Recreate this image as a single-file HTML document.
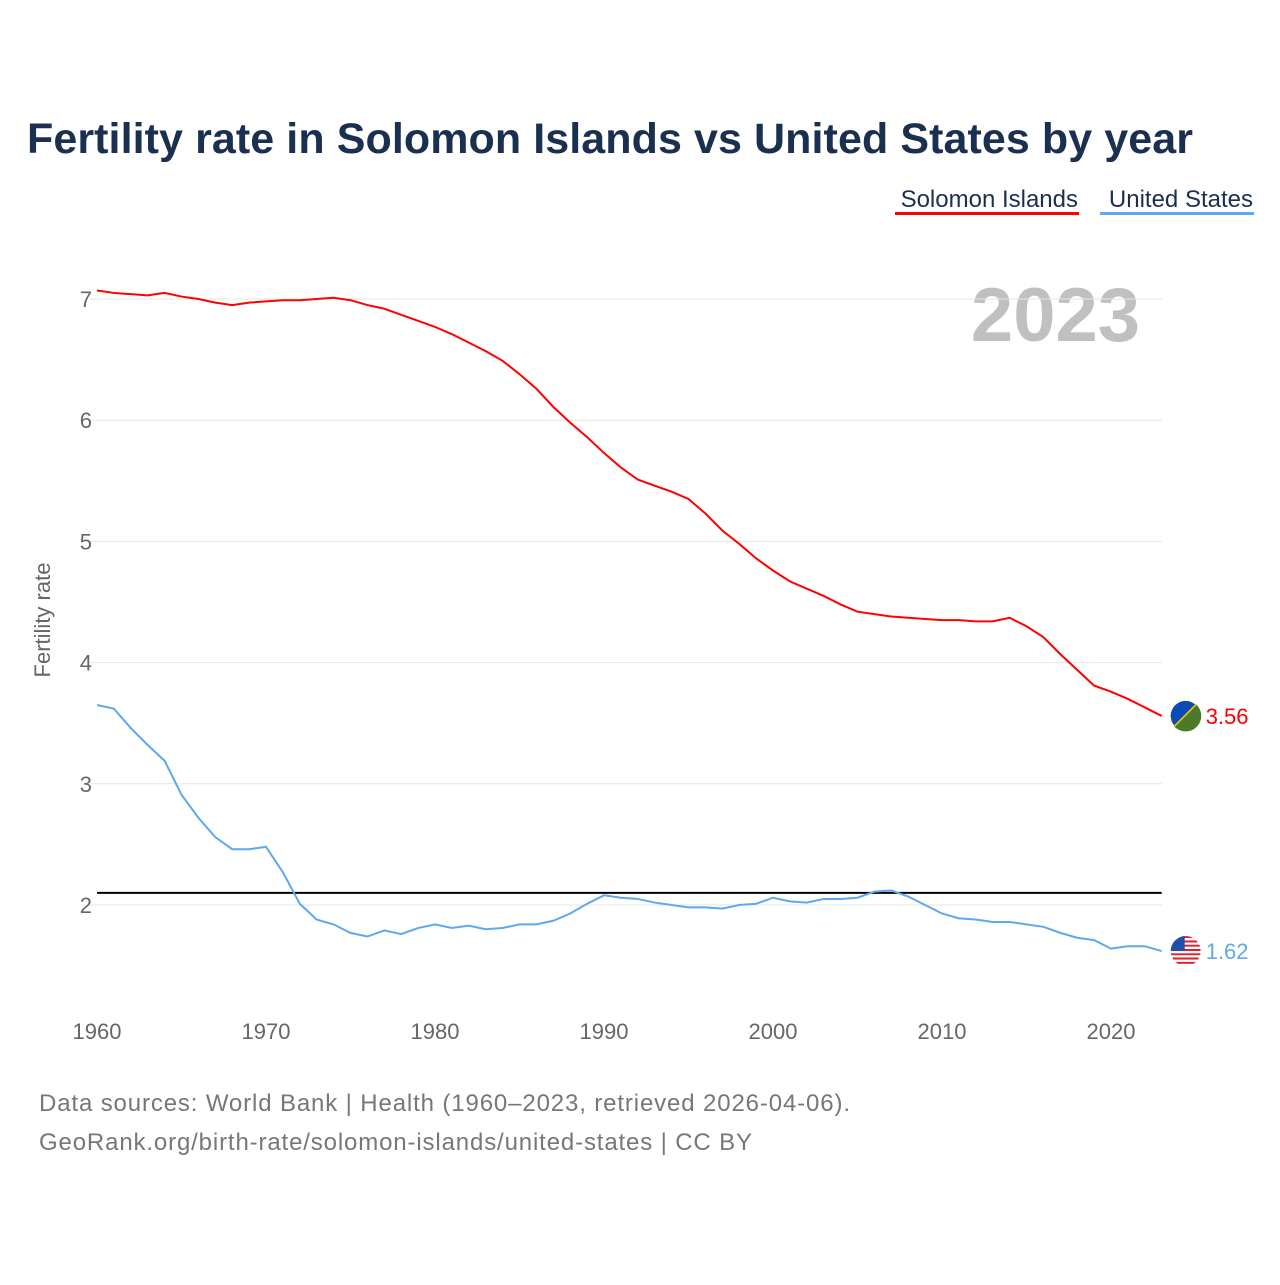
<!DOCTYPE html>
<html><head><meta charset="utf-8">
<style>
body{margin:0;background:#fff;width:1280px;height:1280px;overflow:hidden;font-family:"Liberation Sans",sans-serif}
</style></head>
<body>
<svg id="chart" width="1280" height="1280" xmlns="http://www.w3.org/2000/svg" font-family="Liberation Sans, sans-serif">
<text x="27" y="153" font-size="43" font-weight="bold" fill="#1b3050" textLength="1166">Fertility rate in Solomon Islands vs United States by year</text>
<g>
<text x="1078" y="207" font-size="24" fill="#1b3050" text-anchor="end">Solomon Islands</text>
<rect x="895" y="212" width="184" height="3" fill="#ff0000"/></g>
<g>
<text x="1253" y="207" font-size="24" fill="#1b3050" text-anchor="end">United States</text>
<rect x="1100" y="212" width="154" height="3" fill="#5ea8ee"/></g>
<text x="1140" y="341" font-size="76" font-weight="bold" fill="#c0c0c0" text-anchor="end">2023</text>
<text transform="translate(50,620) rotate(-90)" font-size="22" fill="#666" text-anchor="middle">Fertility rate</text>
<g id="grid"></g><g id="marks"></g>
<text x="39" y="1111" font-size="24" fill="#777" textLength="811">Data sources: World Bank | Health (1960–2023, retrieved 2026-04-06).</text>
<text x="39" y="1150" font-size="24" fill="#777" textLength="713">GeoRank.org/birth-rate/solomon-islands/united-states | CC BY</text>
</svg>
<script>
const years=[];for(let y=1960;y<=2023;y++)years.push(y);
const solomon=[7.07,7.05,7.04,7.03,7.05,7.02,7.00,6.97,6.95,6.97,6.98,6.99,6.99,7.00,7.01,6.99,6.95,6.92,6.87,6.82,6.77,6.71,6.64,6.57,6.49,6.38,6.26,6.11,5.98,5.86,5.73,5.61,5.51,5.46,5.41,5.35,5.23,5.09,4.98,4.86,4.76,4.67,4.61,4.55,4.48,4.42,4.40,4.38,4.37,4.36,4.35,4.35,4.34,4.34,4.37,4.30,4.21,4.07,3.94,3.81,3.76,3.70,3.63,3.56];
const us=[3.65,3.62,3.46,3.32,3.19,2.91,2.72,2.56,2.46,2.46,2.48,2.27,2.01,1.88,1.84,1.77,1.74,1.79,1.76,1.81,1.84,1.81,1.83,1.80,1.81,1.84,1.84,1.87,1.93,2.01,2.08,2.06,2.05,2.02,2.00,1.98,1.98,1.97,2.00,2.01,2.06,2.03,2.02,2.05,2.05,2.06,2.11,2.12,2.07,2.00,1.93,1.89,1.88,1.86,1.86,1.84,1.82,1.77,1.73,1.71,1.64,1.66,1.66,1.62];
const yTicks=[2,3,4,5,6,7];
const xTicks=[1960,1970,1980,1990,2000,2010,2020];
const replacement=2.1;
const NS="http://www.w3.org/2000/svg";
const x=v=>97+(v-1960)*(1014/60);
const y=v=>905-(v-2)*121.2;
const grid=document.getElementById('grid'),marks=document.getElementById('marks');
function mk(tag,attrs,parent){const e=document.createElementNS(NS,tag);for(const k in attrs)e.setAttribute(k,attrs[k]);parent.appendChild(e);return e;}
yTicks.forEach(t=>{
 const l=mk('line',{x1:90,x2:1162,y1:y(t),y2:y(t),stroke:'#e6e6e6','stroke-width':1},grid);
 
 
 const tx=mk('text',{x:92,y:y(t)+8,'font-size':22,fill:'#666','text-anchor':'end'},grid);tx.textContent=t;
 
 
});
xTicks.forEach(t=>{
 const tx=mk('text',{x:x(t),y:1039,'font-size':22,fill:'#666','text-anchor':'middle'},grid);tx.textContent=t;
 
 
});
const rl=mk('line',{x1:x(1960),x2:x(2023),y1:y(replacement),y2:y(replacement),stroke:'#000','stroke-width':2},marks);


function series(vals,color,name){
 const p=mk('polyline',{points:vals.map((v,i)=>x(years[i])+','+y(v)).join(' '),fill:'none',stroke:color,'stroke-width':2},marks);
 
 
}
series(solomon,'#ff0000','solomon-islands-line');
series(us,'#5ea8ee','united-states-line');
const sv=solomon[solomon.length-1],uv=us[us.length-1],ex=x(2023)+24;
const fs=mk('g',{},marks);


mk('circle',{cx:ex,cy:y(sv),r:15,fill:'#1e5a2e'},fs);
mk('path',{d:`M${ex-15},${y(sv)} A15,15 0 0 1 ${ex},${y(sv)-15} L${ex+11},${y(sv)-11} L${ex-11},${y(sv)+11} Z`,fill:'#0c4ab5'},fs);
mk('line',{x1:ex-11,y1:y(sv)+11,x2:ex+11,y2:y(sv)-11,stroke:'#f5d000','stroke-width':3},fs);
mk('path',{d:`M${ex+11},${y(sv)-11} A15,15 0 0 1 ${ex-11},${y(sv)+11} Z`,fill:'#4a7a2a'},fs);
const ls=mk('text',{x:ex+20,y:y(sv)+8,'font-size':22,fill:'#ff0000'},marks);ls.textContent=sv.toFixed(2);


const fu=mk('g',{},marks);


const cp=mk('clipPath',{id:'usclip'},fu);mk('circle',{cx:ex,cy:y(uv),r:15},cp);
const gu=mk('g',{'clip-path':'url(#usclip)'},fu);
for(let i=0;i<7;i++)mk('rect',{x:ex-15,y:y(uv)-15+i*30/7,width:30,height:30/14,fill:'#e0202c'},gu);
for(let i=0;i<7;i++)mk('rect',{x:ex-15,y:y(uv)-15+i*30/7+30/14,width:30,height:30/14,fill:'#fff'},gu);
mk('rect',{x:ex-15,y:y(uv)-15,width:14,height:15,fill:'#1f4fa8'},gu);
const lu=mk('text',{x:ex+20,y:y(uv)+8,'font-size':22,fill:'#5ea8ee'},marks);lu.textContent=uv.toFixed(2);


</script>
</body></html>
